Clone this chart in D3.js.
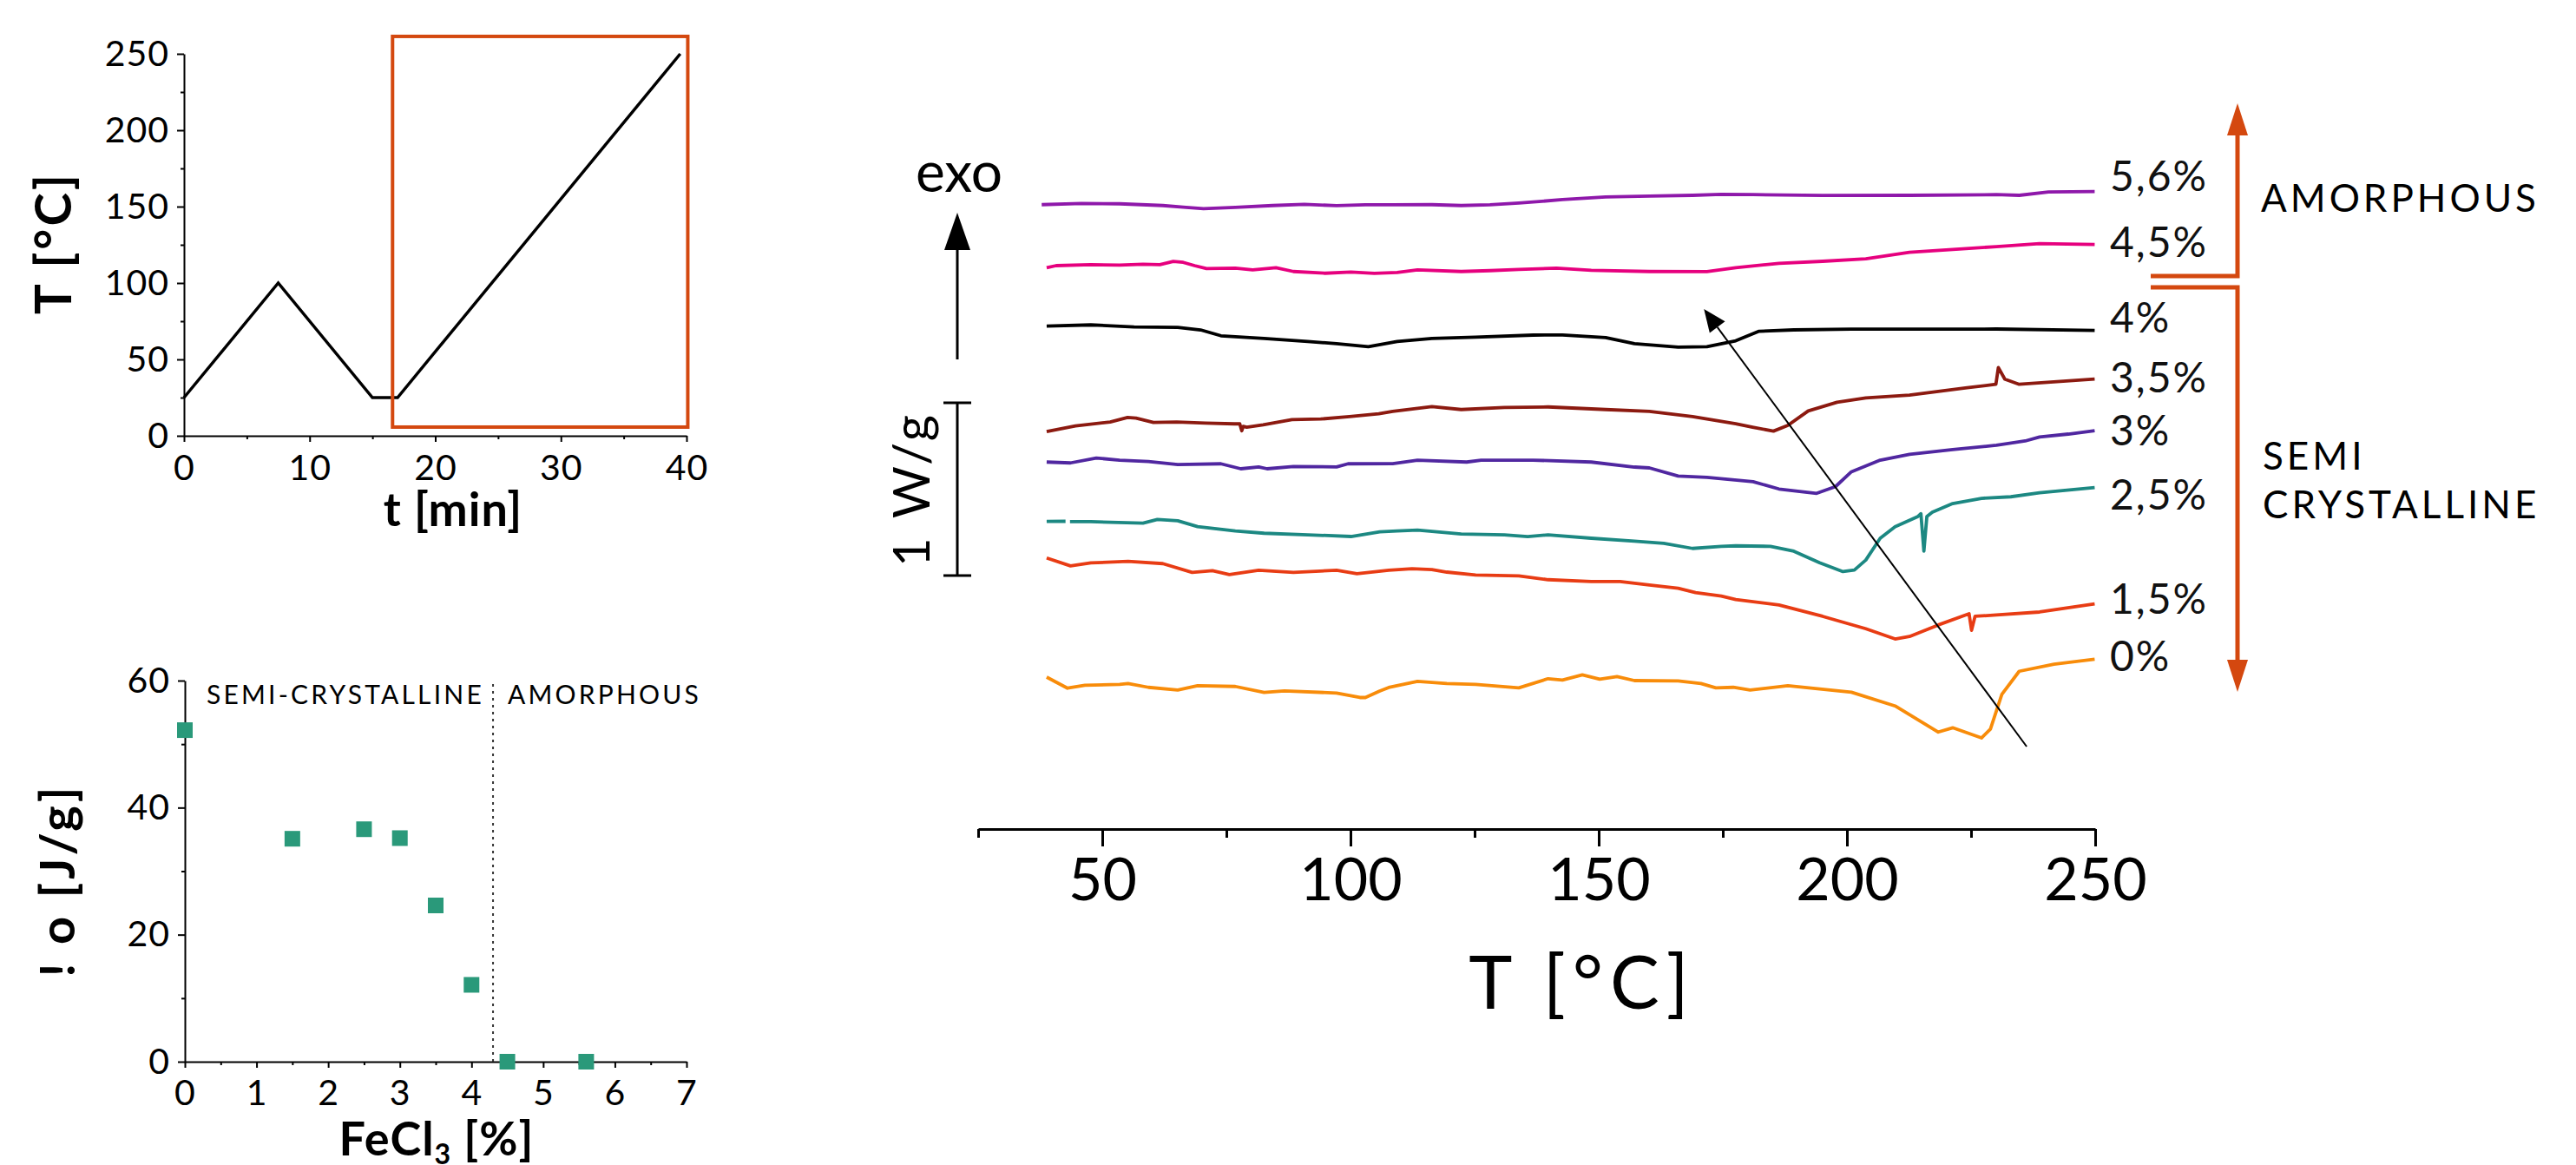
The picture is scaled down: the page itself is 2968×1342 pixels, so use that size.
<!DOCTYPE html>
<html><head><meta charset="utf-8">
<script src="https://cdn.jsdelivr.net/npm/d3@7"></script>
<style>
html,body{margin:0;padding:0;background:#fff;}
svg{display:block;}
</style></head><body>
<svg id="c" width="2968" height="1342"></svg>
<script>
// ================= DATA =================
// Panel A: temperature program
const programTime = [0, 7.5, 15, 17, 39.5];
const programTemp = [25, 100, 25, 25, 250];
const timeTicks = [0, 10, 20, 30, 40];
const timeMinorTicks = [5, 15, 25, 35];
const tempTicks = [0, 50, 100, 150, 200, 250];
const tempMinorTicks = [25, 75, 125, 175, 225];
const heatingWindow = [16.6, 40.1, 5.7, 261.4]; // t0, t1, T0, T1

// Panel B: melting enthalpy vs FeCl3
const fecl3 = [0, 1.5, 2.5, 3, 3.5, 4, 4.5, 5.6];
const enthalpy = [52.2, 35.1, 36.6, 35.2, 24.6, 12.1, 0, 0];
const fecl3Ticks = [0, 1, 2, 3, 4, 5, 6, 7];
const fecl3MinorTicks = [0.5, 1.5, 2.5, 3.5, 4.5, 5.5, 6.5];
const enthalpyTicks = [0, 20, 40, 60];
const enthalpyMinorTicks = [10, 30, 50];
const amorphousLimit = 4.3;

// Panel C: DSC heating curves (heat flow, W/g, stacked)
const dscLabels = ["5,6%", "4,5%", "4%", "3,5%", "3%", "2,5%", "1,5%", "0%"];
const dscTicks = [50, 100, 150, 200, 250];
const dscMinorTicks = [25, 75, 125, 175, 225];

const T_56 = [37.8,45.8,53.5,62.2,66.3,70.4,76.8,84.3,90.7,97.2,103,108.5,116.4,122.3,128.1,133.9,142.7,151.4,160.2,168.9,174.7,181.1,195.1,212.6,230.1,234.7,240.6,249.9];
const Q_56 = [3.338,3.345,3.343,3.333,3.323,3.315,3.322,3.333,3.340,3.332,3.337,3.337,3.338,3.333,3.337,3.347,3.367,3.383,3.388,3.392,3.398,3.396,3.391,3.392,3.396,3.392,3.411,3.414];

const T_45 = [38.8,40.7,47.7,53.5,58.2,61.6,64.3,66.3,68.6,71.0,76.8,80.3,85,88.5,94.9,100.1,104.8,109.4,113.5,122.3,128.1,133.9,141.5,148.5,160.2,171.8,177.6,186.3,195.1,203.8,212.6,221.3,230.1,238.8,249.9];
const Q_45 = [2.973,2.985,2.991,2.988,2.993,2.991,3.009,3.004,2.985,2.968,2.970,2.960,2.973,2.951,2.941,2.948,2.940,2.945,2.960,2.951,2.956,2.963,2.970,2.958,2.951,2.950,2.973,2.998,3.010,3.024,3.062,3.079,3.095,3.112,3.107];

const T_40 = [38.8,47.7,56.4,65.2,69.8,73.9,82.6,91.4,97.2,103.6,109.4,116.4,125.2,136.8,142.7,151.4,157.2,166,171.8,177.6,182.3,189.3,200.9,212.6,230.1,249.9];
const Q_40 = [2.635,2.642,2.630,2.628,2.613,2.579,2.563,2.546,2.533,2.516,2.546,2.563,2.571,2.583,2.584,2.568,2.533,2.513,2.516,2.550,2.605,2.613,2.617,2.617,2.618,2.610];

const T_35 = [38.8,44.6,51.6,55.1,56.8,60.3,65,70.8,76.6,77.7,78.1,78.4,79.1,82.4,88.2,94,99.8,105.7,108.5,116.4,122.3,131,139.8,151.4,160.2,168.9,177.6,181,185.2,188.1,192.2,198,203.8,212.6,224.2,230.0,230.5,231.8,234.7,249.9];
const Q_35 = [2.024,2.057,2.080,2.106,2.102,2.077,2.080,2.074,2.069,2.069,2.029,2.055,2.050,2.064,2.094,2.097,2.111,2.127,2.141,2.169,2.152,2.164,2.167,2.152,2.141,2.111,2.070,2.050,2.027,2.060,2.144,2.194,2.219,2.236,2.278,2.298,2.395,2.328,2.298,2.328];

const T_30 = [38.8,43.6,48.8,53.5,59.3,65.2,73.9,77.9,81.5,83.2,88.5,97.2,99.5,108.5,113.5,123.4,126.3,136.8,148.5,157.2,160.2,166,171.8,181.1,186.3,193.9,197.7,200.9,206.7,212.6,221.3,230.1,235.9,238.8,244.6,249.9];
const Q_30 = [1.848,1.843,1.871,1.859,1.851,1.834,1.838,1.809,1.820,1.809,1.822,1.820,1.838,1.839,1.859,1.848,1.859,1.859,1.848,1.819,1.814,1.767,1.759,1.734,1.692,1.667,1.706,1.792,1.859,1.893,1.920,1.945,1.970,1.993,2.010,2.030];

const T_25 = [38.8,42.6,43.0,43.5,47.7,58.2,61.1,65.2,69.2,76.8,82.6,91.4,100.1,105.9,109.4,113.5,122.3,131,135.7,139.8,148.5,157.2,163.1,168.9,174.7,177.6,184.6,189.3,194.5,199.2,201.5,203.8,206.7,209.7,214.3,214.9,215.5,216.1,217.2,221.3,227.1,233,238.8,249.9];
const Q_25 = [1.504,1.505,null,1.503,1.503,1.494,1.516,1.508,1.474,1.449,1.436,1.427,1.417,1.444,1.449,1.454,1.432,1.427,1.416,1.427,1.407,1.390,1.377,1.348,1.360,1.363,1.360,1.332,1.265,1.214,1.223,1.281,1.407,1.474,1.533,1.549,1.332,1.533,1.558,1.608,1.638,1.647,1.670,1.700];

const T_15 = [38.8,43.6,47.7,55.2,62.2,68.1,72.2,75.6,81.5,88.5,97.2,101.3,107.7,112.4,116.4,119.4,125.2,133.9,139.8,148.5,154.3,160.2,166,169.5,174.7,177.6,186.3,195.1,203.8,209.7,212.6,218.4,224.6,225.1,225.8,230.1,238.8,249.9];
const Q_15 = [1.293,1.247,1.264,1.273,1.260,1.209,1.219,1.197,1.222,1.209,1.222,1.202,1.222,1.231,1.226,1.211,1.194,1.189,1.167,1.156,1.156,1.136,1.117,1.092,1.072,1.052,1.021,0.955,0.883,0.824,0.838,0.905,0.970,0.874,0.955,0.963,0.980,1.027];

const T_00 = [38.8,43,46.5,53.5,55.2,59.3,65.2,69.2,76.8,82.6,86.7,97.2,101.9,103,105.9,107.7,113.5,119.4,125.2,133.9,139.8,142.7,146.7,150.2,153.7,157.2,166,170.6,173.6,177.1,180.5,188.1,200.9,209.7,218.4,221.3,227.1,228.9,231.2,234.7,241.7,249.9];
const Q_00 = [0.603,0.539,0.556,0.561,0.566,0.544,0.528,0.553,0.549,0.514,0.523,0.511,0.485,0.485,0.523,0.543,0.578,0.566,0.561,0.541,0.594,0.586,0.616,0.591,0.606,0.583,0.581,0.566,0.541,0.544,0.528,0.553,0.516,0.436,0.285,0.310,0.251,0.302,0.503,0.637,0.678,0.707];

// annotations in data units
const scaleBarQ = [1.191, 2.191];     // 1 W/g bar
const trendArrow = [[236.2, 0.201], [171.2, 2.734]];

// ================= STYLE / LAYOUT =================
const dscColors = ["#8e18aa", "#e6007e", "#000000", "#8c1a10", "#5027a0", "#1c8882", "#e83c14", "#f88c0a"];
const FONT = "Lato, 'Noto Sans', 'DejaVu Sans', sans-serif";
const ACCENT = "#d4480f";
const MARKER = "#2a997a";

const svg = d3.select("#c");
svg.append("rect").attr("width", 2968).attr("height", 1342).attr("fill", "#fff");

function styleAxis(g, fs, sw, weight, ls) {
  g.select(".domain").attr("stroke", "#000").attr("stroke-width", sw);
  g.selectAll(".tick line").attr("stroke", "#000").attr("stroke-width", sw);
  g.selectAll("text").attr("font-family", FONT).attr("font-size", fs)
    .attr("font-weight", weight || 400).attr("fill", "#000")
    .attr("letter-spacing", ls || 0);
}
function minor(g, sw) {
  g.select(".domain").remove();
  g.selectAll(".tick line").attr("stroke", "#000").attr("stroke-width", sw);
  g.selectAll("text").remove();
}

// ================= PANEL A =================
const xA = d3.scaleLinear().domain([0, 40]).range([212, 791]);
const yA = d3.scaleLinear().domain([0, 250]).range([502, 62]);
const gA = svg.append("g");
gA.append("g").attr("transform", `translate(0,${yA(0)})`)
  .call(d3.axisBottom(xA).tickValues(timeMinorTicks).tickSize(4)).call(minor, 2);
gA.append("g").attr("transform", `translate(${xA(0)},0)`)
  .call(d3.axisLeft(yA).tickValues(tempMinorTicks).tickSize(4)).call(minor, 2);
gA.append("g").attr("transform", `translate(0,${yA(0)})`)
  .call(d3.axisBottom(xA).tickValues(timeTicks).tickFormat(d3.format("d")).tickSize(7).tickSizeOuter(0).tickPadding(15))
  .call(styleAxis, 41, 2, 400, 1);
gA.append("g").attr("transform", `translate(${xA(0)},0)`)
  .call(d3.axisLeft(yA).tickValues(tempTicks).tickFormat(d3.format("d")).tickSize(8).tickSizeOuter(0).tickPadding(9))
  .call(styleAxis, 41, 2, 400, 1);
gA.append("path").datum(d3.zip(programTime, programTemp))
  .attr("d", d3.line().x(d => xA(d[0])).y(d => yA(d[1])))
  .attr("fill", "none").attr("stroke", "#000").attr("stroke-width", 3.5);
gA.append("rect")
  .attr("x", xA(heatingWindow[0])).attr("y", yA(heatingWindow[3]))
  .attr("width", xA(heatingWindow[1]) - xA(heatingWindow[0]))
  .attr("height", yA(heatingWindow[2]) - yA(heatingWindow[3]))
  .attr("fill", "none").attr("stroke", ACCENT).attr("stroke-width", 4);
gA.append("text").attr("transform", "translate(82,280) rotate(-90)")
  .attr("text-anchor", "middle").attr("font-family", FONT).attr("font-weight", 700)
  .attr("font-size", 58).attr("letter-spacing", 3).text("T [°C]");
gA.append("text").attr("x", 522).attr("y", 606)
  .attr("text-anchor", "middle").attr("font-family", FONT).attr("font-weight", 700)
  .attr("font-size", 54).attr("letter-spacing", 1).text("t [min]");

// ================= PANEL B =================
const xB = d3.scaleLinear().domain([0, 7]).range([213, 791]);
const yB = d3.scaleLinear().domain([0, 60]).range([1223, 784]);
const gB = svg.append("g");
gB.append("g").attr("transform", `translate(0,${yB(0)})`)
  .call(d3.axisBottom(xB).tickValues(fecl3MinorTicks).tickSize(4)).call(minor, 2);
gB.append("g").attr("transform", `translate(${xB(0)},0)`)
  .call(d3.axisLeft(yB).tickValues(enthalpyMinorTicks).tickSize(4)).call(minor, 2);
gB.append("g").attr("transform", `translate(0,${yB(0)})`)
  .call(d3.axisBottom(xB).tickValues(fecl3Ticks).tickFormat(d3.format("d")).tickSize(7).tickSizeOuter(0).tickPadding(14))
  .call(styleAxis, 41, 2, 400, 1);
gB.append("g").attr("transform", `translate(${xB(0)},0)`)
  .call(d3.axisLeft(yB).tickValues(enthalpyTicks).tickFormat(d3.format("d")).tickSize(8).tickSizeOuter(0).tickPadding(9))
  .call(styleAxis, 41, 2, 400, 1);
gB.append("line")
  .attr("x1", xB(amorphousLimit)).attr("x2", xB(amorphousLimit))
  .attr("y1", yB(0)).attr("y2", yB(60))
  .attr("stroke", "#333").attr("stroke-width", 2).attr("stroke-dasharray", "3,5");
const sq = 18;
gB.selectAll("rect.pt").data(d3.zip(fecl3, enthalpy)).join("rect").attr("class", "pt")
  .attr("x", d => xB(d[0]) - sq / 2).attr("y", d => yB(d[1]) - sq / 2)
  .attr("width", sq).attr("height", sq).attr("fill", MARKER);
gB.append("text").attr("x", 238).attr("y", 811).attr("font-family", FONT)
  .attr("font-size", 30).attr("letter-spacing", 3.2).text("SEMI-CRYSTALLINE");
gB.append("text").attr("x", 585).attr("y", 811).attr("font-family", FONT)
  .attr("font-size", 30).attr("letter-spacing", 3.2).text("AMORPHOUS");
gB.append("text").attr("transform", "translate(86,1014) rotate(-90)")
  .attr("text-anchor", "middle").attr("font-family", FONT).attr("font-weight", 700)
  .attr("font-size", 56).attr("letter-spacing", 4).text("! o [J/g]");
const xt = gB.append("text").attr("x", 503).attr("y", 1331)
  .attr("text-anchor", "middle").attr("font-family", FONT).attr("font-weight", 700)
  .attr("font-size", 54).attr("letter-spacing", 1);
xt.append("tspan").text("FeCl");
xt.append("tspan").attr("dy", 10).attr("font-size", 32).text("3");
xt.append("tspan").attr("dy", -10).text(" [%]");

// ================= PANEL C =================
const xC = d3.scaleLinear().domain([25, 250]).range([1127, 2414]);
const yC = d3.scaleLinear().domain([0, 4]).range([900, 104]);
const gC = svg.append("g");
const axisY = 955;
gC.append("g").attr("transform", `translate(0,${axisY})`)
  .call(d3.axisBottom(xC).tickValues(dscMinorTicks).tickSize(10)).call(minor, 3);
gC.append("g").attr("transform", `translate(0,${axisY})`)
  .call(d3.axisBottom(xC).tickValues(dscTicks).tickSize(20).tickSizeOuter(0).tickPadding(14))
  .call(styleAxis, 68, 3, 400, 0);
gC.append("text").attr("x", 1823).attr("y", 1162).attr("text-anchor", "middle")
  .attr("font-family", FONT).attr("font-weight", 400).attr("font-size", 85)
  .attr("letter-spacing", 8).text("T [°C]");

const series = [[T_56, Q_56], [T_45, Q_45], [T_40, Q_40], [T_35, Q_35],
                [T_30, Q_30], [T_25, Q_25], [T_15, Q_15], [T_00, Q_00]];
const lineC = d3.line().defined(d => d[1] !== null)
  .x(d => xC(d[0])).y(d => yC(d[1]));
gC.selectAll("path.curve").data(series).join("path").attr("class", "curve")
  .attr("d", s => lineC(d3.zip(s[0], s[1])))
  .attr("fill", "none").attr("stroke", (s, i) => dscColors[i])
  .attr("stroke-width", 3.8).attr("stroke-linejoin", "round");

// curve labels (baseline pixel positions = layout)
const labelBaseline = [220, 296, 383, 452, 513, 587, 707, 773];
gC.selectAll("text.lab").data(dscLabels).join("text").attr("class", "lab")
  .attr("x", 2431).attr("y", (d, i) => labelBaseline[i])
  .attr("font-family", FONT).attr("font-size", 48).attr("letter-spacing", 2)
  .attr("fill", "#111").text(d => d);

// scale bar
const sbX = 1103;
gC.append("line").attr("x1", sbX).attr("x2", sbX)
  .attr("y1", yC(scaleBarQ[0])).attr("y2", yC(scaleBarQ[1]))
  .attr("stroke", "#000").attr("stroke-width", 3);
scaleBarQ.forEach(q => gC.append("line").attr("x1", sbX - 16).attr("x2", sbX + 16)
  .attr("y1", yC(q)).attr("y2", yC(q)).attr("stroke", "#000").attr("stroke-width", 3));
gC.append("text").attr("transform", `translate(1071,${(yC(scaleBarQ[0]) + yC(scaleBarQ[1])) / 2}) rotate(-90)`)
  .attr("text-anchor", "middle").attr("font-family", FONT).attr("font-weight", 400)
  .attr("font-size", 58).attr("letter-spacing", 4).text("1 W/g");

// exo arrow
gC.append("line").attr("x1", sbX).attr("x2", sbX).attr("y1", 414).attr("y2", 280)
  .attr("stroke", "#000").attr("stroke-width", 3);
gC.append("path").attr("d", `M${sbX},245 L${sbX - 15},288 L${sbX + 15},288 Z`).attr("fill", "#000");
gC.append("text").attr("x", 1105).attr("y", 221).attr("text-anchor", "middle")
  .attr("font-family", FONT).attr("font-weight", 400).attr("font-size", 64).text("exo");

// diagonal trend arrow
const [ta, tb] = trendArrow;
const ax0 = xC(ta[0]), ay0 = yC(ta[1]), ax1 = xC(tb[0]), ay1 = yC(tb[1]);
const ang = Math.atan2(ay1 - ay0, ax1 - ax0);
const hl = 26, hw = 11;
const bx = ax1 - hl * Math.cos(ang), by = ay1 - hl * Math.sin(ang);
gC.append("line").attr("x1", ax0).attr("y1", ay0).attr("x2", bx).attr("y2", by)
  .attr("stroke", "#000").attr("stroke-width", 2);
gC.append("path").attr("d",
  `M${ax1},${ay1} L${bx - hw * Math.sin(ang)},${by + hw * Math.cos(ang)} L${bx + hw * Math.sin(ang)},${by - hw * Math.cos(ang)} Z`)
  .attr("fill", "#000");

// orange AMORPHOUS / SEMI CRYSTALLINE bracket
const oX = 2578;
const og = gC.append("g").attr("stroke", ACCENT).attr("stroke-width", 5).attr("fill", "none");
og.append("path").attr("d", `M${oX},150 L${oX},318 L2478,318`);
og.append("path").attr("d", `M2478,331 L${oX},331 L${oX},770`);
gC.append("path").attr("d", `M${oX},119 L${oX - 12},156 L${oX + 12},156 Z`).attr("fill", ACCENT);
gC.append("path").attr("d", `M${oX},797 L${oX - 12},760 L${oX + 12},760 Z`).attr("fill", ACCENT);
gC.append("text").attr("x", 2605).attr("y", 244).attr("font-family", FONT)
  .attr("font-size", 44).attr("letter-spacing", 4).text("AMORPHOUS");
gC.append("text").attr("x", 2607).attr("y", 541).attr("font-family", FONT)
  .attr("font-size", 44).attr("letter-spacing", 4).text("SEMI");
gC.append("text").attr("x", 2607).attr("y", 597).attr("font-family", FONT)
  .attr("font-size", 44).attr("letter-spacing", 4).text("CRYSTALLINE");
</script>
</body></html>
